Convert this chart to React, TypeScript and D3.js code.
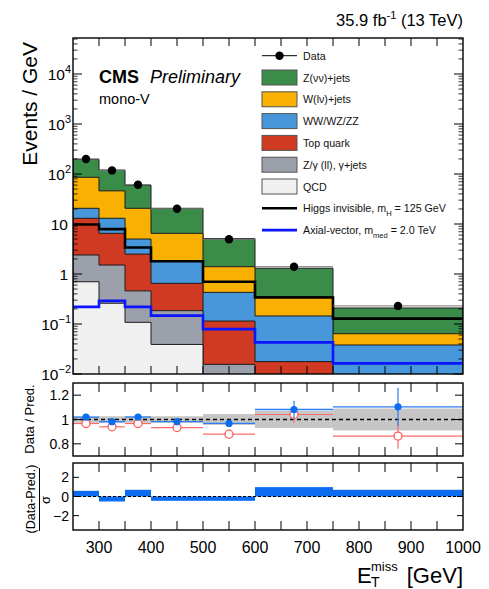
import React from "react";
import * as d3 from "d3";

// Missing transverse momentum bins (GeV)
const binEdges = [250, 300, 350, 400, 500, 600, 750, 1000];

// Background yields, events / GeV (stacked bottom -> top)
const qcdYield = [0.7, 0.26, 0.108, 0.039, 0.004, 0.001, 0.0005];
const zllGammaYield = [1.7, 1.25, 0.352, 0.146, 0.0116, 0.003, 0.001];
const topYield = [10.6, 5.0, 2.04, 0.465, 0.099, 0.0137, 0.004];
const dibosonYield = [7.6, 6.5, 2.5, 1.2, 0.315, 0.127, 0.0325];
const wlnuYield = [65.4, 33, 15.6, 4.65, 0.97, 0.21, 0.026];
const znunuYield = [111, 74, 39.4, 14.1, 3.7, 0.95, 0.145];

// Observed data, events / GeV
const dataYield = [200, 118, 61, 20.2, 4.95, 1.4, 0.23];
const dataErr = [2.0, 1.54, 1.1, 0.45, 0.22, 0.1, 0.03];

// Signal hypotheses, events / GeV
const higgsInvisible = [9.8, 7.9, 3.4, 1.8, 0.7, 0.34, 0.128];
const axialVector = [0.22, 0.29, 0.22, 0.147, 0.079, 0.043, 0.0163];

// Ratio panel
const ratioPostfit = [1.019, 0.982, 1.02, 0.982, 0.968, 1.082, 1.104];
const ratioPostfitErr = [0.012, 0.012, 0.014, 0.012, 0.03, 0.072, 0.156];
const ratioPrefit = [0.967, 0.94, 0.967, 0.934, 0.879, 1.041, 0.864];
const ratioPrefitErr = [0.01, 0.01, 0.012, 0.01, 0.03, 0.07, 0.105];
const predUncert = [0.027, 0.027, 0.027, 0.027, 0.045, 0.07, 0.09];

// Pull panel
const pulls = [0.59, -0.52, 0.7, -0.45, -0.45, 0.98, 0.7];

// Axis labels
const xTickValues = [300, 400, 500, 600, 700, 800, 900, 1000];
const ratioTicks = [0.8, 1, 1.2];
const ratioTickLabels = ["0.8", "1", "1.2"];
const pullTicks = [-2, 0, 2];
const pullTickLabels = ["\u22122", "0", "2"];

const stackKeys = ["qcd", "zll", "top", "vv", "wlnu", "znunu"];
const stackColors: Record<string, string> = {
  znunu: "#3b8b49",
  wlnu: "#f8b100",
  vv: "#4897da",
  top: "#d03a22",
  zll: "#9ca0aa",
  qcd: "#f0f0f0",
};

const FONT = "'Liberation Sans', Arial, Helvetica, sans-serif";

const W = 489;
const H = 589;
const L = 73;
const R = 463;
const mainTop = 38;
const mainBottom = 374;
const ratioTop = 383;
const ratioBottom = 456;
const pullTop = 463;
const pullBottom = 530;

export default function App() {
  const x = d3.scaleLinear().domain([250, 1000]).range([L, R]);
  const y = d3.scaleLog().domain([0.01, 5.25e4]).range([mainBottom, mainTop]);
  const yr = d3.scaleLinear().domain([0.7, 1.3]).range([ratioBottom, ratioTop]);
  const yp = d3.scaleLinear().domain([-3.5, 3.5]).range([pullBottom, pullTop]);

  const nBins = binEdges.length - 1;
  const rows = d3.range(nBins).map((i) => ({
    qcd: qcdYield[i],
    zll: zllGammaYield[i],
    top: topYield[i],
    vv: dibosonYield[i],
    wlnu: wlnuYield[i],
    znunu: znunuYield[i],
  }));
  const stacked = d3.stack<any>().keys(stackKeys)(rows);

  const stepPts = (vals: number[]) =>
    binEdges.map((e, i) => [e, vals[Math.min(i, nBins - 1)]] as [number, number]);

  const area = d3
    .area<[number, number]>()
    .x((d) => x(d[0]))
    .y0(mainBottom + 5)
    .y1((d) => y(Math.max(d[1], 1e-4)))
    .curve(d3.curveStepAfter);

  const line = d3
    .line<[number, number]>()
    .x((d) => x(d[0]))
    .y((d) => y(Math.max(d[1], 1e-4)))
    .curve(d3.curveStepAfter);

  const centers = d3.range(nBins).map((i) => (binEdges[i] + binEdges[i + 1]) / 2);

  // log axis ticks
  const majorLog = d3.range(-2, 5).map((k) => Math.pow(10, k));
  const minorLog: number[] = [];
  d3.range(-2, 5).forEach((k) => {
    for (let m = 2; m <= 9; m++) {
      const v = m * Math.pow(10, k);
      if (v < 5.25e4) minorLog.push(v);
    }
  });
  const xTicks50 = d3.range(300, 1000, 50);

  const frame = (top: number, bottom: number) => (
    <rect x={L} y={top} width={R - L} height={bottom - top} fill="none" stroke="#000" strokeWidth={1.4} />
  );

  const xTickMarks = (top: number, bottom: number, len: number) =>
    xTicks50.map((v) => (
      <g key={`xt${top}-${v}`}>
        <line x1={x(v)} x2={x(v)} y1={bottom} y2={bottom - len} stroke="#000" strokeWidth={1} />
        <line x1={x(v)} x2={x(v)} y1={top} y2={top + len} stroke="#000" strokeWidth={1} />
      </g>
    ));

  const legendItems = [
    { kind: "data", label: ["Data"] },
    { kind: "box", color: stackColors.znunu, label: ["Z(\u03bd\u03bd)+jets"] },
    { kind: "box", color: stackColors.wlnu, label: ["W(l\u03bd)+jets"] },
    { kind: "box", color: stackColors.vv, label: ["WW/WZ/ZZ"] },
    { kind: "box", color: stackColors.top, label: ["Top quark"] },
    { kind: "box", color: stackColors.zll, label: ["Z/\u03b3 (ll), \u03b3+jets"] },
    { kind: "box", color: stackColors.qcd, label: ["QCD"] },
    { kind: "line", color: "#000", label: ["Higgs invisible, m", "H", " = 125 GeV"] },
    { kind: "line", color: "#0a14ff", label: ["Axial-vector, m", "med", " = 2.0 TeV"] },
  ];
  const legX = 262;
  const legW = 35;
  const legY0 = 55.7;
  const legDy = 21.8;
  const legFont = 10.7;

  return (
    <svg
      width={W}
      height={H}
      style={{ position: "absolute", left: 0, top: 0, background: "#fff" }}
      fontFamily={FONT}
    >
      <defs>
        <clipPath id="mainClip">
          <rect x={L} y={mainTop} width={R - L} height={mainBottom - mainTop} />
        </clipPath>
        <clipPath id="ratioClip">
          <rect x={L} y={ratioTop} width={R - L} height={ratioBottom - ratioTop} />
        </clipPath>
        <clipPath id="pullClip">
          <rect x={L} y={pullTop} width={R - L} height={pullBottom - pullTop} />
        </clipPath>
      </defs>
      <rect x={0} y={0} width={W} height={H} fill="#fff" />

      {/* ---------- main panel ---------- */}
      <g clipPath="url(#mainClip)">
        {[...stacked].reverse().map((s) => (
          <path
            key={s.key}
            d={area(stepPts(s.map((d) => d[1]))) || ""}
            fill={stackColors[s.key]}
            stroke="#1c1c1c"
            strokeWidth={1}
          />
        ))}
        <path d={line(stepPts(higgsInvisible)) || ""} fill="none" stroke="#000" strokeWidth={2.6} />
        <path d={line(stepPts(axialVector)) || ""} fill="none" stroke="#0a14ff" strokeWidth={2.6} />
        {dataYield.map((v, i) => (
          <g key={`d${i}`}>
            <line x1={x(binEdges[i])} x2={x(binEdges[i + 1])} y1={y(v)} y2={y(v)} stroke="#777" strokeWidth={1} />
            <line x1={x(centers[i])} x2={x(centers[i])} y1={y(v + dataErr[i])} y2={y(v - dataErr[i])} stroke="#000" strokeWidth={1} />
            <circle cx={x(centers[i])} cy={y(v)} r={4.2} fill="#000" />
          </g>
        ))}
      </g>
      {xTickMarks(mainTop, mainBottom, 8)}
      {majorLog.map((v) => (
        <g key={`ym${v}`}>
          <line x1={L} x2={L + 9} y1={y(v)} y2={y(v)} stroke="#000" strokeWidth={1} />
          <line x1={R} x2={R - 9} y1={y(v)} y2={y(v)} stroke="#000" strokeWidth={1} />
        </g>
      ))}
      {minorLog.map((v) => (
        <g key={`yn${v}`}>
          <line x1={L} x2={L + 4.5} y1={y(v)} y2={y(v)} stroke="#000" strokeWidth={0.8} />
          <line x1={R} x2={R - 4.5} y1={y(v)} y2={y(v)} stroke="#000" strokeWidth={0.8} />
        </g>
      ))}
      {frame(mainTop, mainBottom)}
      {majorLog.map((v) => {
        const k = Math.round(Math.log10(v));
        const yy = y(v) + 6;
        if (k === 0 || k === 1)
          return (
            <text key={`yl${k}`} x={68} y={yy} textAnchor="end" fontSize={15.5}>
              {k === 0 ? "1" : "10"}
            </text>
          );
        return (
          <text key={`yl${k}`} x={71} y={yy} textAnchor="end" fontSize={15.5}>
            <tspan>10</tspan>
            <tspan dy={-7} fontSize={11}>
              {k < 0 ? `\u2212${-k}` : `${k}`}
            </tspan>
          </text>
        );
      })}
      <text transform={`translate(37,42) rotate(-90)`} textAnchor="end" fontSize={21}>
        Events / GeV
      </text>

      {/* labels */}
      <text x={R} y={26} textAnchor="end" fontSize={16.5}>
        <tspan>35.9 fb</tspan>
        <tspan dy={-7} fontSize={11}>-1</tspan>
        <tspan dy={7} fontSize={16.5}> (13 TeV)</tspan>
      </text>
      <text x={99} y={83} fontSize={18} fontWeight="bold">CMS</text>
      <text x={150} y={83} fontSize={18} fontStyle="italic">Preliminary</text>
      <text x={99} y={104} fontSize={14.5}>mono-V</text>

      {/* legend */}
      {legendItems.map((it, i) => {
        const cy = legY0 + i * legDy;
        return (
          <g key={`lg${i}`}>
            {it.kind === "data" && (
              <g>
                <line x1={legX} x2={legX + legW} y1={cy} y2={cy} stroke="#000" strokeWidth={1} />
                <circle cx={legX + legW / 2} cy={cy} r={4.2} fill="#000" />
              </g>
            )}
            {it.kind === "box" && (
              <rect x={legX} y={cy - 7.5} width={legW} height={15} fill={it.color} stroke="#555" strokeWidth={1} />
            )}
            {it.kind === "line" && (
              <line x1={legX} x2={legX + legW} y1={cy} y2={cy} stroke={it.color} strokeWidth={2.6} />
            )}
            <text x={303} y={cy + 4} fontSize={legFont} fill="#111">
              <tspan>{it.label[0]}</tspan>
              {it.label.length > 1 && (
                <>
                  <tspan dy={4} fontSize={7.5}>{it.label[1]}</tspan>
                  <tspan dy={-4} fontSize={legFont}>{it.label[2]}</tspan>
                </>
              )}
            </text>
          </g>
        );
      })}

      {/* ---------- ratio panel ---------- */}
      <g clipPath="url(#ratioClip)">
        {predUncert.map((u, i) => (
          <rect
            key={`band${i}`}
            x={x(binEdges[i])}
            width={x(binEdges[i + 1]) - x(binEdges[i])}
            y={yr(1 + u)}
            height={yr(1 - u) - yr(1 + u)}
            fill="#c6c6c6"
          />
        ))}
        <line x1={L} x2={R} y1={yr(1)} y2={yr(1)} stroke="#000" strokeWidth={1.6} strokeDasharray="4,3" />
        {ratioPrefit.map((v, i) => (
          <g key={`rp${i}`}>
            <line x1={x(binEdges[i])} x2={x(binEdges[i + 1])} y1={yr(v)} y2={yr(v)} stroke="#ff6a6a" strokeWidth={1.2} />
            <line x1={x(centers[i])} x2={x(centers[i])} y1={yr(v + ratioPrefitErr[i])} y2={yr(v - ratioPrefitErr[i])} stroke="#ff6a6a" strokeWidth={1.2} />
            <circle cx={x(centers[i])} cy={yr(v)} r={4} fill="#fff" stroke="#ff5a5a" strokeWidth={1.3} />
          </g>
        ))}
        {ratioPostfit.map((v, i) => (
          <g key={`rb${i}`}>
            <line x1={x(binEdges[i])} x2={x(binEdges[i + 1])} y1={yr(v)} y2={yr(v)} stroke="#2b7df2" strokeWidth={1.3} />
            <line x1={x(centers[i])} x2={x(centers[i])} y1={yr(v + ratioPostfitErr[i])} y2={yr(v - ratioPostfitErr[i])} stroke="#2b7df2" strokeWidth={1.2} />
            <circle cx={x(centers[i])} cy={yr(v)} r={3.6} fill="#0b6cf2" />
          </g>
        ))}
      </g>
      {xTickMarks(ratioTop, ratioBottom, 9)}
      {ratioTicks.map((v) => (
        <g key={`rt${v}`}>
          <line x1={L} x2={L + 8} y1={yr(v)} y2={yr(v)} stroke="#000" strokeWidth={1} />
          <line x1={R} x2={R - 8} y1={yr(v)} y2={yr(v)} stroke="#000" strokeWidth={1} />
        </g>
      ))}
      {frame(ratioTop, ratioBottom)}
      {ratioTicks.map((v, i) => (
        <text key={`rl${v}`} x={69} y={yr(v) + 5} textAnchor="end" fontSize={14}>
          {ratioTickLabels[i]}
        </text>
      ))}
      <text transform={`translate(34,419) rotate(-90)`} textAnchor="middle" fontSize={13}>
        Data / Pred.
      </text>

      {/* ---------- pull panel ---------- */}
      <g clipPath="url(#pullClip)">
        {pulls.map((p, i) => (
          <rect
            key={`pl${i}`}
            x={x(binEdges[i])}
            width={x(binEdges[i + 1]) - x(binEdges[i])}
            y={Math.min(yp(p), yp(0))}
            height={Math.abs(yp(p) - yp(0))}
            fill="#0b6cf2"
          />
        ))}
        <line x1={L} x2={R} y1={yp(0)} y2={yp(0)} stroke="#000" strokeWidth={1.2} strokeDasharray="3,2" />
      </g>
      {xTickMarks(pullTop, pullBottom, 9)}
      {pullTicks.map((v) => (
        <g key={`pt${v}`}>
          <line x1={L} x2={L + 6} y1={yp(v)} y2={yp(v)} stroke="#000" strokeWidth={1} />
          <line x1={R} x2={R - 6} y1={yp(v)} y2={yp(v)} stroke="#000" strokeWidth={1} />
        </g>
      ))}
      {frame(pullTop, pullBottom)}
      {pullTicks.map((v, i) => (
        <text key={`pll${v}`} x={69} y={yp(v) + 5} textAnchor="end" fontSize={14}>
          {pullTickLabels[i]}
        </text>
      ))}
      <text transform={`translate(35,499) rotate(-90)`} textAnchor="middle" fontSize={12.5}>
        (Data-Pred.)
      </text>
      <line x1={39.5} x2={39.5} y1={468} y2={531} stroke="#000" strokeWidth={1} />
      <text transform={`translate(50,500) rotate(-90)`} textAnchor="middle" fontSize={13}>
        {"\u03c3"}
      </text>

      {/* x axis labels */}
      {xTickValues.map((v) => (
        <text key={`xl${v}`} x={x(v)} y={553} textAnchor="middle" fontSize={16}>
          {v}
        </text>
      ))}
      <text x={357} y={583} fontSize={22}>E</text>
      <text x={371} y={571} fontSize={13}>miss</text>
      <text x={371} y={587} fontSize={14}>T</text>
      <text x={R} y={583} textAnchor="end" fontSize={22}>[GeV]</text>
    </svg>
  );
}
